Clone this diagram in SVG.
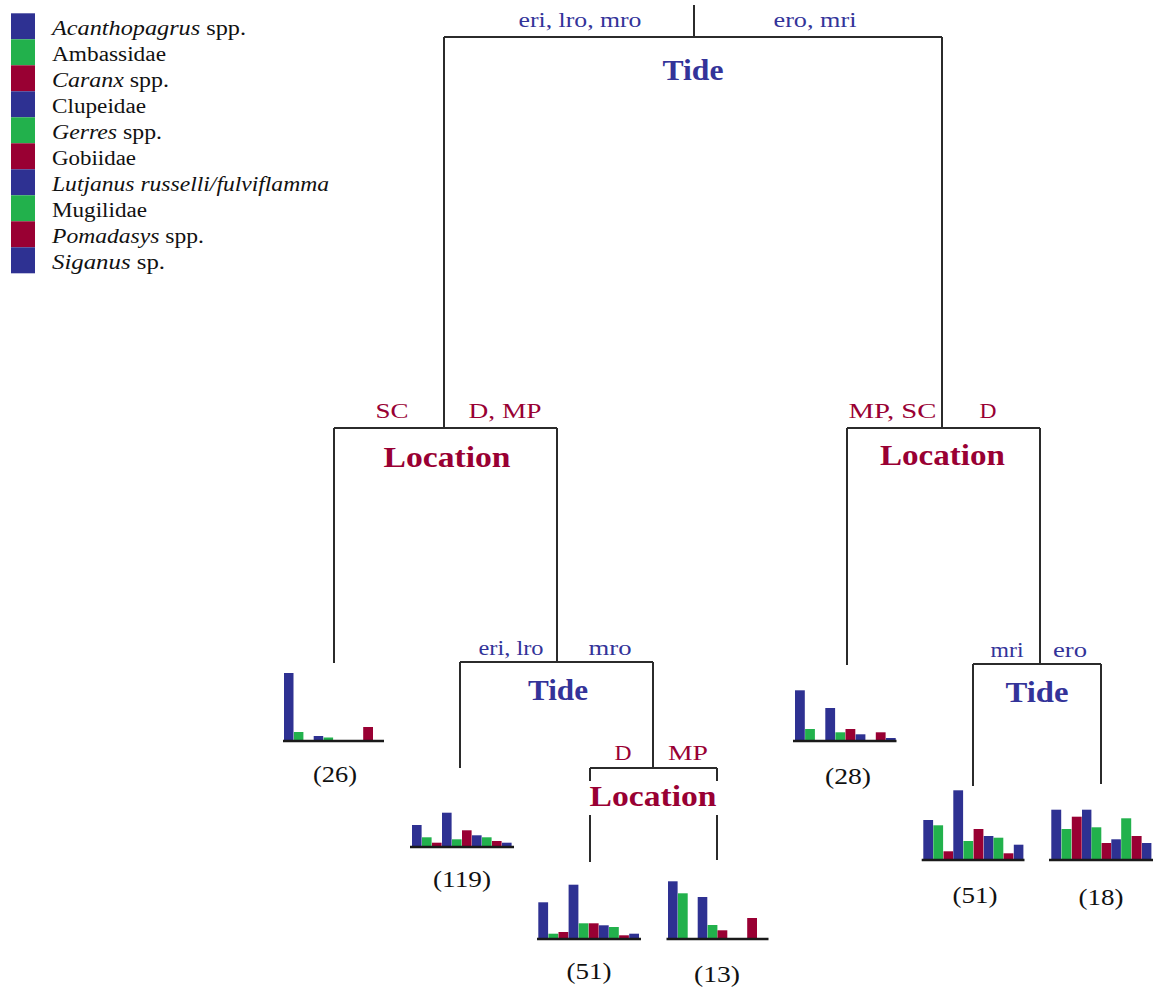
<svg xmlns="http://www.w3.org/2000/svg" width="1161" height="1000" viewBox="0 0 1161 1000">
<style>
.bg{fill:#fff}
.ln{stroke:#2b2b2b;stroke-width:2;fill:none}
.ax{stroke:#1a1a1a;stroke-width:2.5}
.b{fill:#2E3192}
.g{fill:#22B14C}
.r{fill:#990033}
.lab{font-family:"Liberation Serif",serif;font-size:21px;text-anchor:middle}
.blu{fill:#333399}
.red{fill:#990033}
.ttl{font-family:"Liberation Serif",serif;font-size:30px;font-weight:bold;text-anchor:middle}
.cnt{font-family:"Liberation Serif",serif;font-size:24px;fill:#111;text-anchor:middle}
.leg{font-family:"Liberation Serif",serif;font-size:20px;fill:#111}
.it{font-style:italic}
</style>
<rect class="bg" x="0" y="0" width="1161" height="1000"/>

<g id="legend">
<rect class="b" x="11" y="13.3" width="24" height="26"/>
<rect class="g" x="11" y="39.3" width="24" height="26"/>
<rect class="r" x="11" y="65.3" width="24" height="26"/>
<rect class="b" x="11" y="91.3" width="24" height="26"/>
<rect class="g" x="11" y="117.3" width="24" height="26"/>
<rect class="r" x="11" y="143.3" width="24" height="26"/>
<rect class="b" x="11" y="169.3" width="24" height="26"/>
<rect class="g" x="11" y="195.3" width="24" height="26"/>
<rect class="r" x="11" y="221.3" width="24" height="26"/>
<rect class="b" x="11" y="247.3" width="24" height="26"/>
<text class="leg" x="52" y="35" textLength="194" lengthAdjust="spacingAndGlyphs"><tspan class="it">Acanthopagrus</tspan> spp.</text>
<text class="leg" x="52" y="61" textLength="114" lengthAdjust="spacingAndGlyphs">Ambassidae</text>
<text class="leg" x="52" y="87" textLength="117" lengthAdjust="spacingAndGlyphs"><tspan class="it">Caranx</tspan> spp.</text>
<text class="leg" x="52" y="113" textLength="94" lengthAdjust="spacingAndGlyphs">Clupeidae</text>
<text class="leg" x="52" y="139" textLength="110" lengthAdjust="spacingAndGlyphs"><tspan class="it">Gerres</tspan> spp.</text>
<text class="leg" x="52" y="165" textLength="84" lengthAdjust="spacingAndGlyphs">Gobiidae</text>
<text class="leg it" x="52" y="191" textLength="277" lengthAdjust="spacingAndGlyphs">Lutjanus russelli/fulviflamma</text>
<text class="leg" x="52" y="217" textLength="95" lengthAdjust="spacingAndGlyphs">Mugilidae</text>
<text class="leg" x="52" y="243" textLength="152" lengthAdjust="spacingAndGlyphs"><tspan class="it">Pomadasys</tspan> spp.</text>
<text class="leg" x="52" y="269" textLength="113" lengthAdjust="spacingAndGlyphs"><tspan class="it">Siganus</tspan> sp.</text>
</g>

<g id="connectors">
<path class="ln" d="M694 5V37M444 37H942M444 37V428M942 37V428"/>
<path class="ln" d="M334 428H557M334 428V663M557 428V662"/>
<path class="ln" d="M847 428H1040M847 428V665M1040 428V664"/>
<path class="ln" d="M460 662H653M460 662V768M653 662V768"/>
<path class="ln" d="M590 768H717M590 768V781M590 815V862M717 768V781M717 815V860"/>
<path class="ln" d="M973 664H1101M973 664V786M1101 664V784"/>
</g>

<g id="node-tide-root">
<text class="lab blu" x="580" y="27" textLength="123" lengthAdjust="spacingAndGlyphs">eri, lro, mro</text>
<text class="lab blu" x="815" y="27" textLength="83" lengthAdjust="spacingAndGlyphs">ero, mri</text>
<text class="ttl blu" x="693" y="80" textLength="61" lengthAdjust="spacingAndGlyphs">Tide</text>
</g>

<g id="node-location-left">
<text class="lab red" x="392" y="418" textLength="33" lengthAdjust="spacingAndGlyphs">SC</text>
<text class="lab red" x="505" y="418" textLength="73" lengthAdjust="spacingAndGlyphs">D, MP</text>
<text class="ttl red" x="447" y="467" textLength="127" lengthAdjust="spacingAndGlyphs">Location</text>
</g>

<g id="node-location-right">
<text class="lab red" x="892.5" y="418" textLength="88" lengthAdjust="spacingAndGlyphs">MP, SC</text>
<text class="lab red" x="988" y="418" textLength="17" lengthAdjust="spacingAndGlyphs">D</text>
<text class="ttl red" x="942.5" y="465" textLength="125" lengthAdjust="spacingAndGlyphs">Location</text>
</g>

<g id="node-tide-mid">
<text class="lab blu" x="511" y="655" textLength="65" lengthAdjust="spacingAndGlyphs">eri, lro</text>
<text class="lab blu" x="610" y="655" textLength="43" lengthAdjust="spacingAndGlyphs">mro</text>
<text class="ttl blu" x="558" y="700" textLength="60" lengthAdjust="spacingAndGlyphs">Tide</text>
</g>

<g id="node-location-bottom">
<text class="lab red" x="623" y="760" textLength="17" lengthAdjust="spacingAndGlyphs">D</text>
<text class="lab red" x="688" y="760" textLength="40" lengthAdjust="spacingAndGlyphs">MP</text>
<text class="ttl red" x="653" y="806" textLength="127" lengthAdjust="spacingAndGlyphs">Location</text>
</g>

<g id="node-tide-right">
<text class="lab blu" x="1007" y="657" textLength="33" lengthAdjust="spacingAndGlyphs">mri</text>
<text class="lab blu" x="1070" y="657" textLength="34" lengthAdjust="spacingAndGlyphs">ero</text>
<text class="ttl blu" x="1037" y="702" textLength="63" lengthAdjust="spacingAndGlyphs">Tide</text>
</g>

<g id="leaf-26">
<rect class="b" x="284" y="673" width="9.5" height="68"/>
<rect class="g" x="293.9" y="732" width="9.5" height="9"/>
<rect class="b" x="313.7" y="736" width="9.5" height="5"/>
<rect class="g" x="323.6" y="737.5" width="9.5" height="3.5"/>
<rect class="r" x="363.2" y="727" width="9.8" height="14"/>
<line class="ax" x1="283" y1="741" x2="384" y2="741"/>
<text class="cnt" x="335" y="782" textLength="44" lengthAdjust="spacingAndGlyphs">(26)</text>
</g>

<g id="leaf-119">
<rect class="b" x="412" y="825" width="9.6" height="22"/>
<rect class="g" x="422" y="837.3" width="9.6" height="9.7"/>
<rect class="r" x="432" y="842.7" width="9.6" height="4.3"/>
<rect class="b" x="442" y="812.7" width="9.6" height="34.3"/>
<rect class="g" x="452" y="839.3" width="9.6" height="7.7"/>
<rect class="r" x="462" y="830.3" width="9.6" height="16.7"/>
<rect class="b" x="472" y="835.3" width="9.6" height="11.7"/>
<rect class="g" x="482" y="837.3" width="9.6" height="9.7"/>
<rect class="r" x="492" y="841" width="9.6" height="6"/>
<rect class="b" x="502" y="842.7" width="9.6" height="4.3"/>
<line class="ax" x1="410" y1="847" x2="514" y2="847"/>
<text class="cnt" x="462" y="887" textLength="58" lengthAdjust="spacingAndGlyphs">(119)</text>
</g>

<g id="leaf-51a">
<rect class="b" x="538.3" y="902.3" width="9.8" height="36.7"/>
<rect class="g" x="548.4" y="933.7" width="9.8" height="5.3"/>
<rect class="r" x="558.5" y="932" width="9.8" height="7"/>
<rect class="b" x="568.6" y="884.7" width="9.8" height="54.3"/>
<rect class="g" x="578.7" y="923.3" width="9.8" height="15.7"/>
<rect class="r" x="588.8" y="923.3" width="9.8" height="15.7"/>
<rect class="b" x="598.9" y="925.3" width="9.8" height="13.7"/>
<rect class="g" x="609" y="927" width="9.8" height="12"/>
<rect class="r" x="619.1" y="935.3" width="9.8" height="3.7"/>
<rect class="b" x="629.2" y="933.7" width="9.8" height="5.3"/>
<line class="ax" x1="537" y1="939" x2="641" y2="939"/>
<text class="cnt" x="589" y="979" textLength="45" lengthAdjust="spacingAndGlyphs">(51)</text>
</g>

<g id="leaf-13">
<rect class="b" x="668" y="881.3" width="9.6" height="57.7"/>
<rect class="g" x="677.9" y="893.3" width="9.8" height="45.7"/>
<rect class="b" x="697.7" y="897" width="9.6" height="42"/>
<rect class="g" x="707.6" y="925" width="9.8" height="14"/>
<rect class="r" x="717.5" y="930.3" width="9.8" height="8.7"/>
<rect class="r" x="747.2" y="918" width="9.8" height="21"/>
<line class="ax" x1="666.5" y1="939" x2="768.5" y2="939"/>
<text class="cnt" x="717" y="982" textLength="46" lengthAdjust="spacingAndGlyphs">(13)</text>
</g>

<g id="leaf-28">
<rect class="b" x="795" y="690.3" width="9.8" height="50.7"/>
<rect class="g" x="805.1" y="729" width="9.8" height="12"/>
<rect class="b" x="825.3" y="708" width="9.8" height="33"/>
<rect class="g" x="835.4" y="732.3" width="9.8" height="8.7"/>
<rect class="r" x="845.5" y="729" width="9.8" height="12"/>
<rect class="b" x="855.6" y="734.3" width="9.8" height="6.7"/>
<rect class="r" x="875.8" y="732.3" width="9.8" height="8.7"/>
<rect class="b" x="885.9" y="738" width="9.8" height="3"/>
<line class="ax" x1="793" y1="741" x2="896.5" y2="741"/>
<text class="cnt" x="848" y="784" textLength="46" lengthAdjust="spacingAndGlyphs">(28)</text>
</g>

<g id="leaf-51b">
<rect class="b" x="923.3" y="820" width="9.8" height="40"/>
<rect class="g" x="933.3" y="825.3" width="9.8" height="34.7"/>
<rect class="r" x="943.5" y="851.3" width="9.6" height="8.7"/>
<rect class="b" x="953.3" y="790.3" width="9.8" height="69.7"/>
<rect class="g" x="963.4" y="841" width="9.8" height="19"/>
<rect class="r" x="973.6" y="829" width="9.8" height="31"/>
<rect class="b" x="983.8" y="836" width="9.6" height="24"/>
<rect class="g" x="993.5" y="837.7" width="9.8" height="22.3"/>
<rect class="r" x="1003.6" y="853.3" width="9.8" height="6.7"/>
<rect class="b" x="1013.8" y="844.7" width="9.6" height="15.3"/>
<line class="ax" x1="921.7" y1="860" x2="1024.5" y2="860"/>
<text class="cnt" x="975" y="903" textLength="45" lengthAdjust="spacingAndGlyphs">(51)</text>
</g>

<g id="leaf-18">
<rect class="b" x="1051.3" y="809.7" width="9.9" height="50.3"/>
<rect class="g" x="1061.5" y="829" width="9.9" height="31"/>
<rect class="r" x="1071.8" y="816.7" width="9.9" height="43.3"/>
<rect class="b" x="1082" y="809.7" width="9.4" height="50.3"/>
<rect class="g" x="1091.4" y="827.3" width="9.9" height="32.7"/>
<rect class="r" x="1101.6" y="843" width="9.6" height="17"/>
<rect class="b" x="1111.3" y="839.3" width="9.6" height="20.7"/>
<rect class="g" x="1121.2" y="818.3" width="10" height="41.7"/>
<rect class="r" x="1131.6" y="836" width="10" height="24"/>
<rect class="b" x="1142" y="843" width="9.4" height="17"/>
<line class="ax" x1="1049" y1="860" x2="1153" y2="860"/>
<text class="cnt" x="1101" y="905" textLength="45" lengthAdjust="spacingAndGlyphs">(18)</text>
</g>
</svg>
